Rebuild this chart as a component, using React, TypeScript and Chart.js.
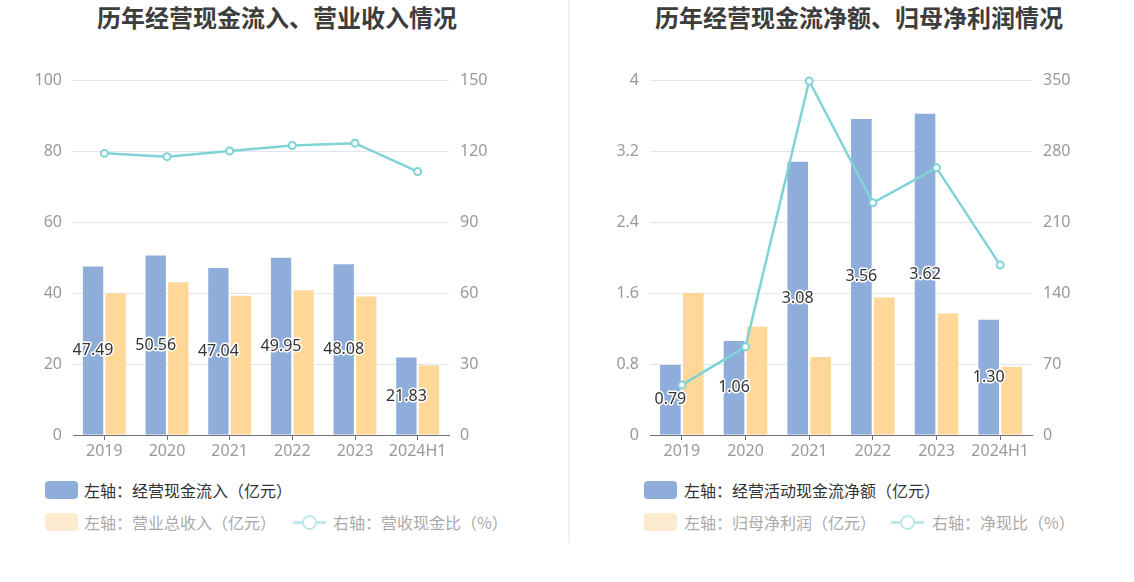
import React, { useEffect, useRef } from 'react';
import { Chart, registerables } from 'chart.js';

Chart.register(...registerables);

// ---------- data ----------
const years = ['2019', '2020', '2021', '2022', '2023', '2024H1'];

// left chart: 经营现金流入 / 营业总收入 / 营收现金比
const cashInflow = [47.49, 50.56, 47.04, 49.95, 48.08, 21.83];
const revenue = [39.9, 43.0, 39.2, 40.8, 39.0, 19.6];
const cashRevenueRatio = [119.0, 117.6, 120.0, 122.3, 123.3, 111.3];
const leftTicksA = [0, 20, 40, 60, 80, 100];
const rightTicksA = [0, 30, 60, 90, 120, 150];

// right chart: 经营活动现金流净额 / 归母净利润 / 净现比
const netCashFlow = [0.79, 1.06, 3.08, 3.56, 3.62, 1.3];
const netProfit = [1.6, 1.22, 0.88, 1.55, 1.37, 0.77];
const netCashRatio = [49.4, 86.9, 349.0, 228.9, 263.4, 167.5];
const leftTicksB = [0, 0.8, 1.6, 2.4, 3.2, 4];
const rightTicksB = [0, 70, 140, 210, 280, 350];

// ---------- styles ----------
const BLUE = '#8EADDB';
const ORANGE = '#FFD899';
const LINE = '#7FD3D6';
const TICK_COLOR = '#999999';
const GRID_COLOR = '#E0E6F1';
const NUM_FONT = "'Noto Sans', 'Noto Sans CJK SC', sans-serif";
const CJK_FONT = "'Noto Sans CJK SC', 'Noto Sans', sans-serif";

const fmt = (v: number) => String(parseFloat(Number(v).toFixed(2)));

const barLabelPlugin = {
  id: 'barLabels',
  afterDraw(chart: any) {
    const meta = chart.getDatasetMeta(1);
    const ds = chart.data.datasets[1];
    const ctx = chart.ctx;
    ctx.save();
    ctx.font = `16px ${NUM_FONT}`;
    ctx.textAlign = 'center';
    ctx.textBaseline = 'middle';
    ctx.lineJoin = 'round';
    meta.data.forEach((el: any, i: number) => {
      const x = el.x;
      const y = (el.y + el.base) / 2;
      const t = Number(ds.data[i]).toFixed(2);
      ctx.lineWidth = 3;
      ctx.strokeStyle = '#ffffff';
      ctx.strokeText(t, x, y);
      ctx.fillStyle = '#333333';
      ctx.fillText(t, x, y);
    });
    ctx.restore();
  },
};

interface PanelProps {
  left: number;
  width: number;
  plotLeft: number;
  plotRight: number;
  bar1: number[];
  bar2: number[];
  line: number[];
  lTicks: number[];
  rTicks: number[];
  names: string[];
}

const CANVAS_H = 470;
const PLOT_TOP = 80;
const PLOT_BOTTOM = 435;

function ChartPanel(p: PanelProps) {
  const ref = useRef<HTMLCanvasElement | null>(null);
  useEffect(() => {
    if (!ref.current) return;
    const chart = new Chart(ref.current, {
      type: 'bar',
      data: {
        labels: years,
        datasets: [
          {
            type: 'line',
            label: p.names[2],
            data: p.line,
            yAxisID: 'y1',
            borderColor: LINE,
            borderWidth: 2.5,
            backgroundColor: '#ffffff',
            pointBackgroundColor: '#ffffff',
            pointBorderColor: LINE,
            pointBorderWidth: 2,
            pointRadius: 3.5,
            tension: 0,
            clip: false,
            order: 0,
          } as any,
          {
            type: 'bar',
            label: p.names[0],
            data: p.bar1,
            yAxisID: 'y',
            backgroundColor: BLUE,
            categoryPercentage: 0.72,
            barPercentage: 0.9,
            order: 1,
          },
          {
            type: 'bar',
            label: p.names[1],
            data: p.bar2,
            yAxisID: 'y',
            backgroundColor: ORANGE,
            categoryPercentage: 0.72,
            barPercentage: 0.9,
            order: 1,
          },
        ],
      },
      options: {
        responsive: false,
        animation: false,
        devicePixelRatio: 1,
        layout: { padding: { top: PLOT_TOP, left: 0, right: 0, bottom: 0 } },
        plugins: {
          legend: { display: false },
          tooltip: { enabled: false },
          title: { display: false },
        },
        scales: {
          x: {
            offset: true,
            grid: {
              display: true,
              drawOnChartArea: false,
              drawTicks: true,
              tickLength: 5,
              offset: false,
              color: '#6E7079',
            },
            border: { display: true, color: '#6E7079', width: 1 },
            ticks: {
              color: TICK_COLOR,
              font: { size: 16, family: NUM_FONT },
              padding: 2,
              maxRotation: 0,
              autoSkip: false,
            },
            afterFit: (s: any) => {
              s.height = CANVAS_H - PLOT_BOTTOM;
            },
          },
          y: {
            position: 'left',
            min: p.lTicks[0],
            max: p.lTicks[p.lTicks.length - 1],
            grid: { color: GRID_COLOR, drawTicks: false, lineWidth: 1 },
            border: { display: false },
            ticks: {
              color: TICK_COLOR,
              font: { size: 16, family: NUM_FONT },
              padding: 11,
              callback: (v: any) => fmt(v),
            },
            afterBuildTicks: (s: any) => {
              s.ticks = p.lTicks.map((v) => ({ value: v }));
            },
            afterFit: (s: any) => {
              s.width = p.plotLeft - p.left;
            },
          },
          y1: {
            position: 'right',
            min: p.rTicks[0],
            max: p.rTicks[p.rTicks.length - 1],
            grid: { drawOnChartArea: false, drawTicks: false },
            border: { display: false },
            ticks: {
              color: TICK_COLOR,
              font: { size: 16, family: NUM_FONT },
              padding: 11,
              callback: (v: any) => fmt(v),
            },
            afterBuildTicks: (s: any) => {
              s.ticks = p.rTicks.map((v) => ({ value: v }));
            },
            afterFit: (s: any) => {
              s.width = p.left + p.width - p.plotRight;
            },
          },
        },
      },
      plugins: [barLabelPlugin],
    } as any);
    return () => chart.destroy();
  }, []);
  return (
    <canvas
      ref={ref}
      width={p.width}
      height={CANVAS_H}
      style={{ position: 'absolute', left: p.left, top: 0, width: p.width, height: CANVAS_H }}
    />
  );
}

function Swatch({ x, y, color }: { x: number; y: number; color: string }) {
  return (
    <div
      style={{
        position: 'absolute',
        left: x,
        top: y - 9,
        width: 33,
        height: 18,
        borderRadius: 4,
        background: color,
      }}
    />
  );
}

function LineIcon({ x, y }: { x: number; y: number }) {
  const c = '#BDE9EB';
  return (
    <div style={{ position: 'absolute', left: x, top: y - 9, width: 33, height: 18 }}>
      <div style={{ position: 'absolute', left: 0, top: 8, width: 33, height: 2.5, background: c }} />
      <div
        style={{
          position: 'absolute',
          left: 9,
          top: 1.5,
          width: 11,
          height: 11,
          borderRadius: '50%',
          border: `2.5px solid ${c}`,
          background: '#fff',
        }}
      />
    </div>
  );
}

function Text({ x, y, text, color }: { x: number; y: number; text: string; color: string }) {
  return (
    <div
      style={{
        position: 'absolute',
        left: x,
        top: y - 12,
        height: 24,
        lineHeight: '24px',
        fontSize: 16,
        fontFamily: CJK_FONT,
        color,
        whiteSpace: 'nowrap',
      }}
    >
      {text}
    </div>
  );
}

function Title({ cx, text }: { cx: number; text: string }) {
  return (
    <div
      style={{
        position: 'absolute',
        left: cx - 300,
        width: 600,
        top: 2,
        height: 30,
        lineHeight: '30px',
        textAlign: 'center',
        fontSize: 24,
        fontWeight: 'bold',
        fontFamily: CJK_FONT,
        color: '#3d3d3d',
        whiteSpace: 'nowrap',
      }}
    >
      {text}
    </div>
  );
}

export default function App() {
  return (
    <div
      style={{
        position: 'absolute',
        left: 0,
        top: 0,
        width: 1134,
        height: 582,
        background: '#ffffff',
        overflow: 'hidden',
      }}
    >
      <Title cx={277} text="历年经营现金流入、营业收入情况" />
      <Title cx={859} text="历年经营现金流净额、归母净利润情况" />
      <div style={{ position: 'absolute', left: 568, top: 0, width: 2, height: 543, background: '#F2F2F2' }} />
      <ChartPanel
        left={0}
        width={560}
        plotLeft={73}
        plotRight={449}
        bar1={cashInflow}
        bar2={revenue}
        line={cashRevenueRatio}
        lTicks={leftTicksA}
        rTicks={rightTicksA}
        names={['左轴：经营现金流入（亿元）', '左轴：营业总收入（亿元）', '右轴：营收现金比（%）']}
      />
      <ChartPanel
        left={575}
        width={559}
        plotLeft={650}
        plotRight={1032}
        bar1={netCashFlow}
        bar2={netProfit}
        line={netCashRatio}
        lTicks={leftTicksB}
        rTicks={rightTicksB}
        names={['左轴：经营活动现金流净额（亿元）', '左轴：归母净利润（亿元）', '右轴：净现比（%）']}
      />
      {/* left legend */}
      <Swatch x={45} y={490} color={BLUE} />
      <Text x={84} y={490} text="左轴：经营现金流入（亿元）" color="#333333" />
      <Swatch x={45} y={522} color="#FDEBD0" />
      <Text x={84} y={522} text="左轴：营业总收入（亿元）" color="#aaaaaa" />
      <LineIcon x={293} y={522} />
      <Text x={333} y={522} text="右轴：营收现金比（%）" color="#aaaaaa" />
      {/* right legend */}
      <Swatch x={644} y={490} color={BLUE} />
      <Text x={684} y={490} text="左轴：经营活动现金流净额（亿元）" color="#333333" />
      <Swatch x={644} y={522} color="#FDEBD0" />
      <Text x={684} y={522} text="左轴：归母净利润（亿元）" color="#aaaaaa" />
      <LineIcon x={891} y={522} />
      <Text x={932} y={522} text="右轴：净现比（%）" color="#aaaaaa" />
    </div>
  );
}
